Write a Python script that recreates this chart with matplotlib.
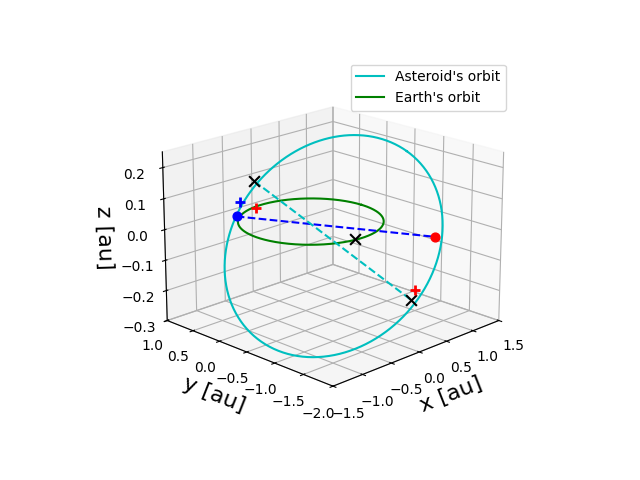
import numpy as np
import matplotlib
matplotlib.use("Agg")
import matplotlib.pyplot as plt

t = np.linspace(0, 2 * np.pi, 400)
# asteroid orbit (ellipse, inclined)
ast_cx, ast_cy, ast_a, ast_b = 0.0, -0.5, 1.35, 1.4
ast_zc, ast_zamp = -0.04, 0.25
ast_x = ast_cx + ast_a * np.cos(t)
ast_y = ast_cy + ast_b * np.sin(t)
ast_z = ast_zc + ast_zamp * np.sin(t + 1.1)
# earth orbit
earth_r = 0.93
earth_x = 0.05 + earth_r * np.cos(t)
earth_y = -0.05 + earth_r * np.sin(t)
earth_z = np.zeros_like(t)

earth_pts = [(-0.5, 0.75, 0.0, 'b'), (1.15, -1.2, -0.05, 'r')]
plus_pts = [(-0.5, 0.68, 0.05, 'b'), (-0.35, 0.55, 0.03, 'r'), (0.75, -1.22, -0.2, 'r')]
x_pts = [(0.45, -0.45, -0.06), (-0.55, 0.35, 0.14), (0.7, -1.2, -0.23)]

fig = plt.figure(figsize=(6.4, 4.8))
ax = fig.add_subplot(projection='3d')
ax.plot(ast_x, ast_y, ast_z, color='c', label="Asteroid's orbit")
ax.plot(earth_x, earth_y, earth_z, color='g', label="Earth's orbit")
ax.plot([earth_pts[0][0], earth_pts[1][0]], [earth_pts[0][1], earth_pts[1][1]],
        [earth_pts[0][2], earth_pts[1][2]], 'b--')
ax.plot([x_pts[1][0], x_pts[2][0]], [x_pts[1][1], x_pts[2][1]],
        [x_pts[1][2], x_pts[2][2]], 'c--')
for x, y, z, c in earth_pts:
    ax.scatter(x, y, z, color=c, s=40, depthshade=False)
for x, y, z, c in plus_pts:
    ax.scatter(x, y, z, color=c, marker='+', s=60, depthshade=False, linewidths=2)
for x, y, z in x_pts:
    ax.scatter(x, y, z, color='k', marker='x', s=60, depthshade=False, linewidths=1.5)

ax.set_xlim(-1.5, 1.5)
ax.set_ylim(-2.0, 1.0)
ax.set_zlim(-0.3, 0.25)
ax.set_xticks([-1.5, -1.0, -0.5, 0.0, 0.5, 1.0, 1.5])
ax.set_yticks([-2.0, -1.5, -1.0, -0.5, 0.0, 0.5, 1.0])
ax.set_zticks([-0.3, -0.2, -0.1, 0.0, 0.1, 0.2])
ax.set_xlabel('x [au]', fontsize=16)
ax.set_ylabel('y [au]', fontsize=16)
ax.set_zlabel('z [au]', fontsize=16)
ax.view_init(elev=19, azim=-135)
ax.legend(loc='upper right')
fig.savefig('out.png', dpi=100)
